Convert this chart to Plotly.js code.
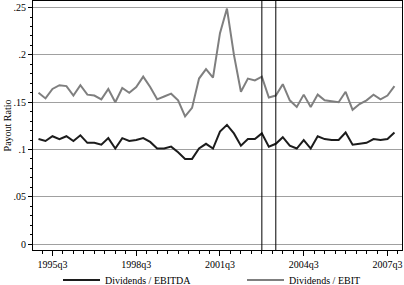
<!DOCTYPE html>
<html>
<head>
<meta charset="utf-8">
<script src="https://cdn.plot.ly/plotly-3.0.1.min.js"></script>
<style>
html,body{margin:0;padding:0;background:#fff;}
#chart{width:404px;height:285px;}
</style>
</head>
<body>
<div id="chart"></div>
<script>
var quarters = ["1995q1","1995q2","1995q3","1995q4","1996q1","1996q2","1996q3","1996q4",
  "1997q1","1997q2","1997q3","1997q4","1998q1","1998q2","1998q3","1998q4",
  "1999q1","1999q2","1999q3","1999q4","2000q1","2000q2","2000q3","2000q4",
  "2001q1","2001q2","2001q3","2001q4","2002q1","2002q2","2002q3","2002q4",
  "2003q1","2003q2","2003q3","2003q4","2004q1","2004q2","2004q3","2004q4",
  "2005q1","2005q2","2005q3","2005q4","2006q1","2006q2","2006q3","2006q4",
  "2007q1","2007q2","2007q3","2007q4"];

var divEbitda = [0.111,0.109,0.114,0.111,0.114,0.109,0.115,0.107,
  0.107,0.105,0.112,0.101,0.112,0.109,0.110,0.112,
  0.108,0.101,0.101,0.103,0.097,0.090,0.090,0.101,
  0.106,0.101,0.119,0.126,0.117,0.104,0.111,0.111,
  0.117,0.103,0.106,0.113,0.104,0.101,0.110,0.101,
  0.114,0.111,0.110,0.110,0.118,0.105,0.106,0.107,
  0.111,0.110,0.111,0.118];

var divEbit = [0.160,0.154,0.164,0.168,0.167,0.157,0.168,0.158,
  0.157,0.153,0.164,0.150,0.165,0.160,0.166,0.177,
  0.166,0.153,0.156,0.159,0.152,0.135,0.144,0.175,
  0.185,0.176,0.223,0.249,0.200,0.161,0.175,0.173,
  0.177,0.155,0.157,0.169,0.152,0.145,0.158,0.145,
  0.158,0.152,0.151,0.150,0.161,0.142,0.148,0.152,
  0.158,0.153,0.157,0.167];

var xTickLabels = ["1995q3","1998q3","2001q3","2004q3","2007q3"];
var yTickVals = [0, 0.05, 0.1, 0.15, 0.2, 0.25];
var yTickLabels = ["0", ".05", ".1", ".15", ".2", ".25"];
var eventQuarters = ["2003q1","2003q3"];
var yTitle = "Payout Ratio";

var xIdx = quarters.map(function(q, i){ return i; });
var xTickVals = xTickLabels.map(function(q){ return quarters.indexOf(q); });

var FONT = "Liberation Serif, Times New Roman, serif";

var traces = [
  {x: xIdx, y: divEbitda, type: "scatter", mode: "lines", name: "Dividends / EBITDA",
   line: {color: "#1c1c1c", width: 2}, legend: "legend"},
  {x: xIdx, y: divEbit, type: "scatter", mode: "lines", name: "Dividends / EBIT",
   line: {color: "#7f7f7f", width: 2}, legend: "legend2"}
];

var shapes = eventQuarters.map(function(q){
  var i = quarters.indexOf(q);
  return {type: "line", xref: "x", yref: "paper", x0: i, x1: i, y0: 0, y1: 1,
          line: {color: "#000", width: 1}};
});

function legendAt(xpx) {
  return {orientation: "h", xref: "container", yref: "paper",
          x: xpx / 404, y: -0.12, xanchor: "left", yanchor: "middle",
          itemwidth: 37,
          bgcolor: "rgba(0,0,0,0)", borderwidth: 0,
          font: {family: FONT, size: 10, color: "#000"}};
}

var layout = {
  width: 404, height: 285,
  margin: {l: 33, r: 2, t: 1, b: 35, autoexpand: false},
  paper_bgcolor: "#fff", plot_bgcolor: "#fff",
  font: {family: FONT, size: 10, color: "#000"},
  showlegend: true,
  legend: legendAt(58),
  legend2: legendAt(242),
  xaxis: {range: [-0.79, 52.08], tickmode: "array", tickvals: xTickVals, ticktext: xTickLabels,
          ticks: "outside", ticklen: 5, tickcolor: "#000", showgrid: false, zeroline: false,
          showline: true, linecolor: "#000", linewidth: 1, mirror: true, automargin: false,
          minor: {tickmode: "linear", tick0: 0.5, dtick: 1.5, ticks: "outside", ticklen: 3, tickcolor: "#000", showgrid: false},
          tickfont: {family: FONT, size: 10}},
  yaxis: {range: [-0.0063, 0.257], tickmode: "array", tickvals: yTickVals, ticktext: yTickLabels,
          ticks: "outside", ticklen: 4, tickcolor: "#000",
          showgrid: true, gridcolor: "#a0a0a0", gridwidth: 1, zeroline: false,
          showline: true, linecolor: "#000", linewidth: 1, mirror: true, automargin: false,
          minor: {tickmode: "linear", tick0: 0, dtick: 0.01, ticks: "outside", ticklen: 2, tickcolor: "#000", showgrid: false},
          tickfont: {family: FONT, size: 10}},
  annotations: [{text: yTitle, textangle: -90, xref: "paper", yref: "paper",
                 x: -0.068, y: 0.5, xanchor: "center", yanchor: "middle", showarrow: false,
                 font: {family: FONT, size: 10, color: "#000"}}],
  shapes: shapes
};

Plotly.newPlot("chart", traces, layout, {displayModeBar: false, staticPlot: true});
</script>
</body>
</html>
